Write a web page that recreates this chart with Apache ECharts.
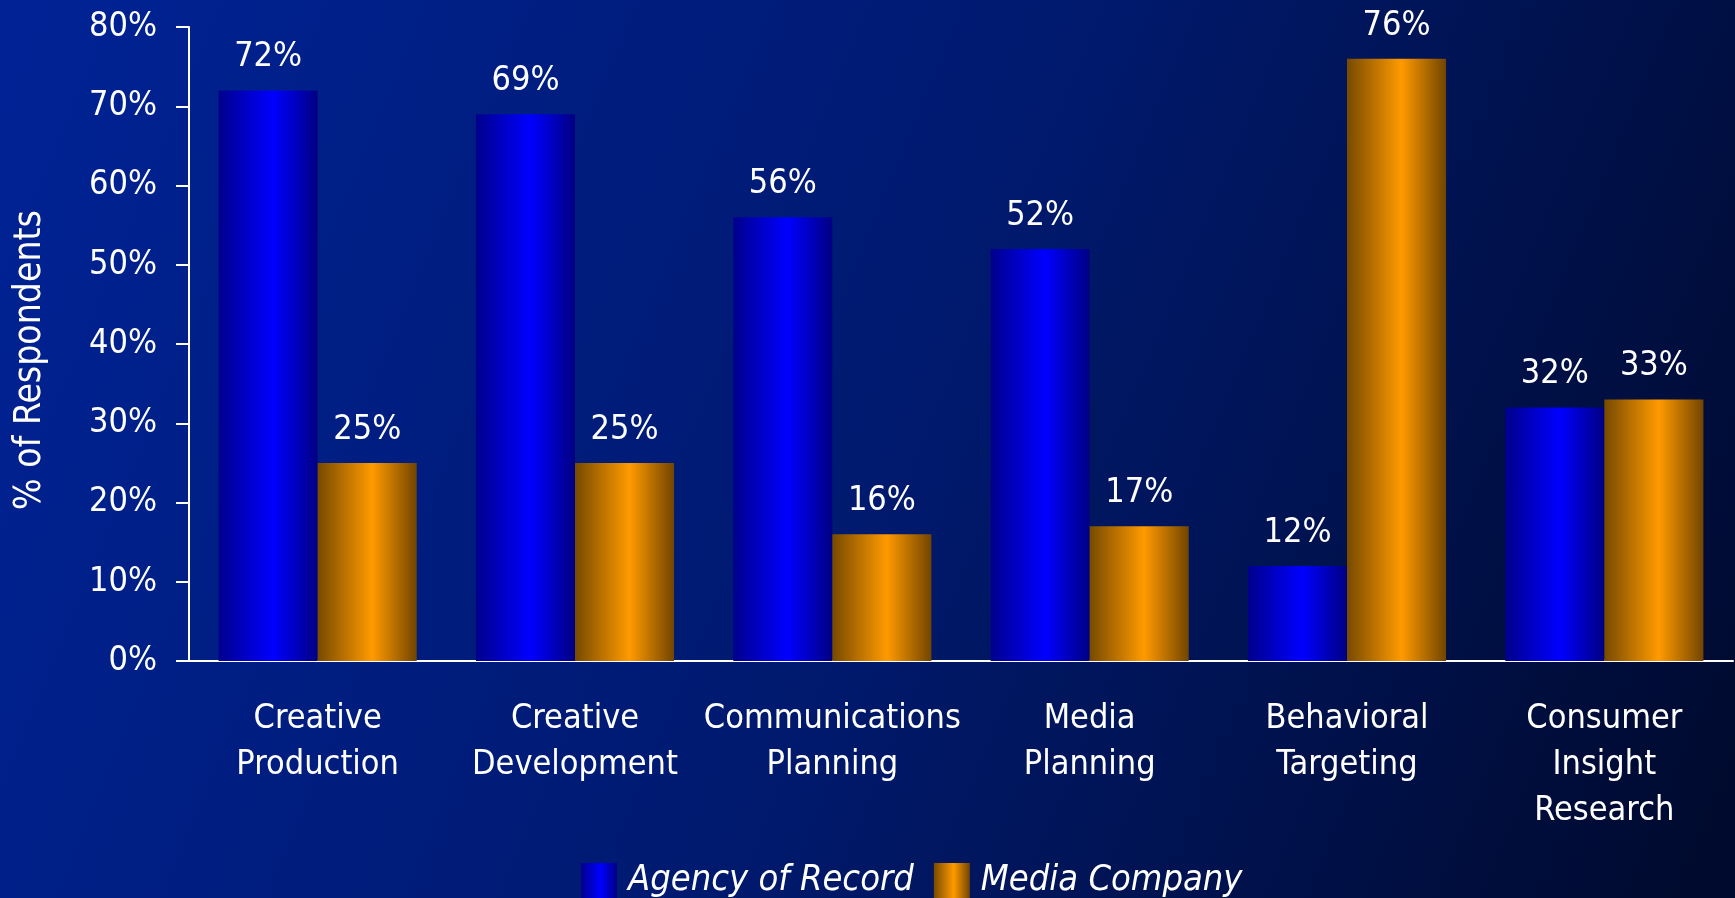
<!DOCTYPE html>
<html>
<head>
<meta charset="utf-8">
<script src="https://cdn.jsdelivr.net/npm/echarts@6/dist/echarts.min.js"></script>
<style>
  html, body { margin: 0; padding: 0; background: #001a70; }
  #chart { width: 1735px; height: 898px; }
</style>
</head>
<body>
<div id="chart"></div>
<script>
// Services handled by each type of partner (share of respondents)
const categories = [
  'Creative\nProduction',
  'Creative\nDevelopment',
  'Communications\nPlanning',
  'Media\nPlanning',
  'Behavioral\nTargeting',
  'Consumer\nInsight\nResearch'
];
const agencyOfRecord = [72, 69, 56, 52, 12, 32];
const mediaCompany = [25, 25, 16, 17, 76, 33];
const seriesNames = ['Agency of Record', 'Media Company'];

const FONT = '"Liberation Sans Narrow", "DejaVu Sans Condensed", "Arial Narrow", sans-serif';

function cylinder(edge, mid, edge2) {
  return {
    type: 'linear', x: 0, y: 0, x2: 1, y2: 0,
    colorStops: [
      { offset: 0, color: edge },
      { offset: 0.55, color: mid },
      { offset: 1, color: edge2 }
    ]
  };
}
const blueFill = cylinder('#00008c', '#0000ff', '#000082');
const orangeFill = cylinder('#774a00', '#ff9a00', '#714500');

const chart = echarts.init(document.getElementById('chart'), null, { renderer: 'canvas' });

const valueLabel = {
  show: true,
  position: 'top',
  distance: 16,
  color: '#ffffff',
  fontFamily: FONT,
  fontSize: 34,
  formatter: p => p.value + '%'
};

chart.setOption({
  backgroundColor: 'transparent',
  animation: false,
  graphic: [{
    type: 'rect',
    z: -10,
    silent: true,
    shape: { x: 0, y: 0, width: 1735, height: 898 },
    style: {
      fill: {
        type: 'linear', x: 0, y: 0.1, x2: 1, y2: 0.9,
        colorStops: [
          { offset: 0, color: '#002294' },
          { offset: 0.5, color: '#001a70' },
          { offset: 1, color: '#000a2e' }
        ]
      }
    }
  }],
  grid: {
    left: 189, right: 2, top: 27, bottom: 237,
    containLabel: false,
    outerBoundsMode: 'none'
  },
  legend: {
    data: seriesNames,
    left: 576,
    top: 858,
    itemWidth: 36,
    itemHeight: 36,
    itemGap: 20,
    icon: 'rect',
    textStyle: {
      color: '#ffffff',
      fontFamily: FONT,
      fontStyle: 'italic',
      fontSize: 36,
      padding: [0, 0, 0, 6]
    }
  },
  xAxis: {
    type: 'category',
    data: categories,
    axisLine: { show: true, lineStyle: { color: '#ffffff', width: 2 } },
    axisTick: { show: false },
    axisLabel: {
      color: '#ffffff',
      fontFamily: FONT,
      fontSize: 34,
      lineHeight: 46,
      margin: 35,
      interval: 0
    }
  },
  yAxis: {
    type: 'value',
    min: 0,
    max: 80,
    interval: 10,
    name: '% of Respondents',
    nameLocation: 'middle',
    nameGap: 140,
    nameRotate: 90,
    nameTextStyle: {
      color: '#ffffff',
      fontFamily: FONT,
      fontSize: 37,
      padding: [0, 32, 0, 0]
    },
    splitLine: { show: false },
    axisLine: { show: true, lineStyle: { color: '#ffffff', width: 2 } },
    axisTick: { show: true, length: 13, lineStyle: { color: '#ffffff', width: 2 } },
    axisLabel: {
      color: '#ffffff',
      fontFamily: FONT,
      fontSize: 34,
      margin: 32,
      formatter: v => v + '%'
    }
  },
  series: [
    {
      name: seriesNames[0],
      type: 'bar',
      data: agencyOfRecord,
      barGap: '0%',
      barCategoryGap: '23%',
      itemStyle: { color: blueFill },
      label: valueLabel
    },
    {
      name: seriesNames[1],
      type: 'bar',
      data: mediaCompany,
      barGap: '0%',
      barCategoryGap: '23%',
      itemStyle: { color: orangeFill },
      label: valueLabel
    }
  ]
});
</script>
</body>
</html>
